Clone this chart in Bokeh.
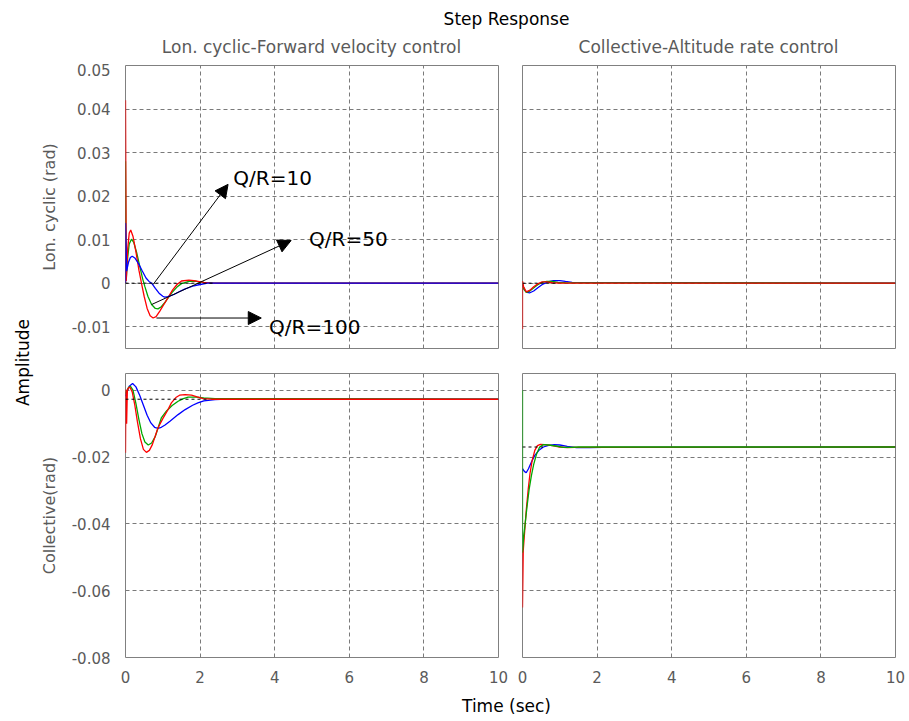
import numpy as np
from bokeh.plotting import figure
from bokeh.layouts import column, row
from bokeh.models import Range1d, FixedTicker, Arrow, NormalHead
from bokeh.embed import file_html
from bokeh.resources import INLINE
from bokeh.core.properties import value

# ---------------- data ----------------
time_ticks = [0, 2, 4, 6, 8, 10]
time_labels = ["0", "2", "4", "6", "8", "10"]
lon_ticks = [-0.01, 0.0, 0.01, 0.02, 0.03, 0.04, 0.05]
lon_labels = ["-0.01", "0", "0.01", "0.02", "0.03", "0.04", "0.05"]
col_ticks = [-0.08, -0.06, -0.04, -0.02, 0.0]
col_labels = ["-0.08", "-0.06", "-0.04", "-0.02", "0"]

series_names = ["Q/R=10", "Q/R=50", "Q/R=100"]
series_colors = ["#0000ff", "#00a800", "#ff0000"]

# Top-left: Lon. cyclic response, Lon. cyclic-Forward velocity control
tl_blue_t = [0, 0, 0.03, 0.08, 0.13, 0.18, 0.25, 0.35, 0.45, 0.55, 0.63, 0.71, 0.80, 0.90, 1.00, 1.05, 1.14, 1.30, 1.45, 1.60, 1.80, 2.00, 2.20, 10]
tl_blue_v = [0, 0.0138, 0.0028, 0.0048, 0.0059, 0.0062, 0.0058, 0.0045, 0.0028, 0.0012, 0.0004, -0.0001, -0.0012, -0.0023, -0.0030, -0.0032, -0.0031, -0.0026, -0.0019, -0.0013, -0.0007, -0.0003, 0.0, 0.0]
tl_green_t = [0, 0, 0.02, 0.06, 0.10, 0.16, 0.22, 0.30, 0.38, 0.46, 0.52, 0.60, 0.70, 0.80, 0.87, 0.96, 1.05, 1.14, 1.25, 1.38, 1.50, 1.70, 1.90, 2.10, 2.40, 10]
tl_green_v = [0, 0.028, 0.0010, 0.0060, 0.0090, 0.0101, 0.0094, 0.0070, 0.0040, 0.0010, -0.0008, -0.0030, -0.0049, -0.0058, -0.0059, -0.0054, -0.0045, -0.0034, -0.0021, -0.0009, -0.0001, 0.0004, 0.0004, 0.0002, 0.0, 0.0]
tl_red_t = [0, 0, 0.02, 0.06, 0.10, 0.14, 0.20, 0.28, 0.36, 0.44, 0.50, 0.58, 0.66, 0.74, 0.82, 0.92, 1.02, 1.14, 1.26, 1.38, 1.50, 1.70, 1.90, 2.10, 2.30, 10]
tl_red_v = [0, 0.042, 0.0005, 0.0080, 0.0115, 0.0122, 0.0108, 0.0072, 0.0030, -0.0005, -0.0030, -0.0058, -0.0075, -0.0080, -0.0077, -0.0064, -0.0050, -0.0033, -0.0016, -0.0003, 0.0005, 0.0007, 0.0005, 0.0002, 0.0, 0.0]

# Top-right: Lon. cyclic response, Collective-Altitude rate control
tr_blue_t = [0, 0.05, 0.12, 0.20, 0.30, 0.42, 0.55, 0.68, 0.83, 1.00, 1.15, 1.33, 10]
tr_blue_v = [-0.0003, -0.0015, -0.0021, -0.0022, -0.0018, -0.0010, -0.0002, 0.0003, 0.0006, 0.0006, 0.0004, 0.0002, 0.0]
tr_green_t = [0, 0.04, 0.10, 0.18, 0.28, 0.40, 0.52, 0.65, 0.80, 0.95, 1.15, 10]
tr_green_v = [-0.0002, -0.0014, -0.0021, -0.0019, -0.0012, -0.0004, 0.0002, 0.0004, 0.0004, 0.0002, 0.0001, 0.0]
tr_red_t = [0, 0, 0.03, 0.10, 0.20, 0.30, 0.42, 0.53, 0.65, 0.80, 1.00, 10]
tr_red_v = [-0.0105, 0.0005, -0.0008, -0.0020, -0.0016, -0.0008, -0.0001, 0.0003, 0.0003, 0.0001, 0.0, 0.0]

# Bottom-left: Collective response, Lon. cyclic-Forward velocity control
bl_blue_t = [0, 0.04, 0.10, 0.19, 0.28, 0.38, 0.48, 0.58, 0.68, 0.78, 0.87, 0.96, 1.06, 1.20, 1.41, 1.60, 1.80, 1.94, 2.10, 2.40, 2.85, 10]
bl_blue_v = [-0.0018, -0.0005, 0.0012, 0.0020, 0.0010, -0.0015, -0.0045, -0.0075, -0.0098, -0.0111, -0.0114, -0.0111, -0.0104, -0.0092, -0.0073, -0.0058, -0.0045, -0.0038, -0.0032, -0.0028, -0.0026, -0.0027]
bl_green_t = [0, 0.03, 0.08, 0.13, 0.20, 0.28, 0.36, 0.44, 0.52, 0.61, 0.70, 0.80, 0.96, 1.10, 1.25, 1.41, 1.55, 1.68, 1.90, 2.10, 2.40, 10]
bl_green_v = [-0.0010, -0.0004, 0.0008, 0.0012, 0.0000, -0.0040, -0.0088, -0.0130, -0.0155, -0.0164, -0.0158, -0.0138, -0.0083, -0.0062, -0.0046, -0.0033, -0.0025, -0.0021, -0.0021, -0.0023, -0.0025, -0.0027]
bl_red_t = [0, 0.01, 0.03, 0.05, 0.08, 0.12, 0.18, 0.25, 0.32, 0.40, 0.48, 0.56, 0.64, 0.72, 0.87, 1.00, 1.12, 1.23, 1.35, 1.45, 1.60, 1.77, 1.92, 2.08, 2.30, 10]
bl_red_v = [-0.0187, 0.0002, -0.0100, 0.0, 0.0007, 0.0009, -0.0005, -0.0045, -0.0095, -0.0145, -0.0177, -0.0186, -0.0180, -0.0163, -0.0113, -0.0085, -0.0062, -0.0038, -0.0022, -0.0015, -0.0013, -0.0015, -0.0020, -0.0025, -0.0027, -0.0027]

# Bottom-right: Collective response, Collective-Altitude rate control
br_blue_t = [0, 0.05, 0.10, 0.16, 0.24, 0.33, 0.44, 0.56, 0.70, 0.85, 1.00, 1.20, 1.45, 1.80, 2.14, 10]
br_blue_v = [-0.0235, -0.0243, -0.0247, -0.0235, -0.0215, -0.0195, -0.0180, -0.0170, -0.0165, -0.0163, -0.0164, -0.0168, -0.0172, -0.0172, -0.0171, -0.0170]
br_green_t = [0, 0, 0.03, 0.08, 0.13, 0.18, 0.24, 0.30, 0.38, 0.46, 0.56, 0.70, 0.90, 1.10, 1.30, 1.50, 10]
br_green_v = [0, -0.0486, -0.0440, -0.0390, -0.0340, -0.0295, -0.0255, -0.0222, -0.0190, -0.0170, -0.0163, -0.0164, -0.0167, -0.0171, -0.0171, -0.0170, -0.0170]
br_red_t = [0, 0, 0.02, 0.06, 0.10, 0.15, 0.20, 0.26, 0.33, 0.40, 0.48, 0.60, 0.80, 1.00, 1.20, 1.40, 10]
br_red_v = [-0.0480, -0.0650, -0.0480, -0.0420, -0.0360, -0.0300, -0.0250, -0.0210, -0.0180, -0.0166, -0.0162, -0.0163, -0.0166, -0.0170, -0.0172, -0.0171, -0.0170]

# steady-state (final value) markers: value and extent in time
ss_values = {"tl": 0.0, "tr": 0.0, "bl": -0.0027, "br": -0.0170}
ss_end = {"tl": 2.4, "tr": 0.9, "bl": 2.2, "br": 0.55}

# annotations in the top-left panel
ann_text = ["Q/R=10", "Q/R=50", "Q/R=100"]
ann_x0 = [0.74, 0.70, 0.83]
ann_y0 = [-0.0003, -0.0049, -0.0080]
ann_x1 = [2.75, 4.44, 3.64]
ann_y1 = [0.0227, 0.0098, -0.0080]
ann_tx = [2.89, 4.92, 3.85]
ann_ty = [0.0242, 0.0101, -0.0101]

# ---------------- styling ----------------
FONT = "DejaVu Sans"
GRAY_TXT = "#5a5a5a"
FRAME = "#808080"


def strip(w, h, xr, yr):
    f = figure(width=w, height=h, x_range=Range1d(*xr), y_range=Range1d(*yr),
               x_axis_type=None, y_axis_type=None, toolbar_location=None,
               output_backend="svg", min_border=0, title=None)
    f.outline_line_color = None
    f.xgrid.visible = False
    f.ygrid.visible = False
    f.background_fill_color = "white"
    f.border_fill_color = "white"
    return f


def panel(w, h, yr, mb, show_x, show_y, yticks, ylabels, ylabel):
    f = figure(width=w, height=h, x_range=Range1d(0, 10), y_range=Range1d(*yr),
               toolbar_location=None, output_backend="svg", title=None,
               min_border_left=mb[0], min_border_right=mb[1],
               min_border_top=mb[2], min_border_bottom=mb[3])
    f.background_fill_color = "white"
    f.border_fill_color = "white"
    f.outline_line_color = FRAME
    f.outline_line_width = 1
    f.xaxis.ticker = FixedTicker(ticks=time_ticks)
    f.yaxis.ticker = FixedTicker(ticks=yticks)
    f.xgrid.ticker = FixedTicker(ticks=time_ticks)
    f.ygrid.ticker = FixedTicker(ticks=yticks)
    for g in (f.xgrid, f.ygrid):
        g.grid_line_color = "#7a7a7a"
        g.grid_line_dash = "4 3"
        g.grid_line_width = 1
    for ax in (f.xaxis, f.yaxis):
        ax.axis_line_color = None
        ax.major_tick_line_color = None
        ax.minor_tick_line_color = None
        ax.major_label_text_font = FONT
        ax.major_label_text_font_size = "15px"
        ax.major_label_text_color = GRAY_TXT
    f.xaxis.major_label_overrides = {t: l for t, l in zip(time_ticks, time_labels)}
    f.yaxis.major_label_overrides = {t: l for t, l in zip(yticks, ylabels)}
    f.xaxis.major_label_standoff = 7
    f.yaxis.major_label_standoff = 9
    if ylabel:
        f.yaxis.axis_label = ylabel
        f.yaxis.axis_label_text_font = FONT
        f.yaxis.axis_label_text_font_size = "16px"
        f.yaxis.axis_label_text_font_style = "normal"
        f.yaxis.axis_label_text_color = GRAY_TXT
        f.yaxis.axis_label_standoff = 10
    f.xaxis.visible = show_x
    f.yaxis.visible = show_y
    return f


top_range = (-0.015, 0.05)
bot_range = (-0.08, 0.005)

tl = panel(474, 297, top_range, (88, 12, 2, 12), False, True, lon_ticks, lon_labels, "Lon. cyclic (rad)")
tr = panel(399, 297, top_range, (12, 14, 2, 12), False, False, lon_ticks, lon_labels, None)
bl = panel(474, 325, bot_range, (88, 12, 13, 28), True, True, col_ticks, col_labels, "Collective(rad)")
br = panel(399, 325, bot_range, (12, 14, 13, 28), True, False, col_ticks, col_labels, None)

LW = 1.3
BLUE, GREEN, RED = series_colors

# draw order per panel (last one on top)
tl.line(tl_green_t, tl_green_v, color=GREEN, line_width=LW)
tl.line(tl_red_t, tl_red_v, color=RED, line_width=LW)
tl.line(tl_blue_t, tl_blue_v, color=BLUE, line_width=LW)

tr.line(tr_blue_t, tr_blue_v, color=BLUE, line_width=LW)
tr.line(tr_green_t, tr_green_v, color=GREEN, line_width=LW)
tr.line(tr_red_t, tr_red_v, color=RED, line_width=LW)

bl.line(bl_blue_t, bl_blue_v, color=BLUE, line_width=LW)
bl.line(bl_green_t, bl_green_v, color=GREEN, line_width=LW)
bl.line(bl_red_t, bl_red_v, color=RED, line_width=LW)

br.line(br_blue_t, br_blue_v, color=BLUE, line_width=LW)
br.line(br_red_t, br_red_v, color=RED, line_width=LW)
br.line(br_green_t, br_green_v, color=GREEN, line_width=LW)

for key, f in (("tl", tl), ("tr", tr), ("bl", bl), ("br", br)):
    f.line([0, ss_end[key]], [ss_values[key], ss_values[key]], color="black",
           line_width=1, line_dash="3 3")

# annotations
for x0, y0, x1, y1 in zip(ann_x0, ann_y0, ann_x1, ann_y1):
    tl.add_layout(Arrow(end=NormalHead(size=13, fill_color="black", line_color="black"),
                        x_start=x0, y_start=y0, x_end=x1, y_end=y1,
                        line_color="black", line_width=1))
tl.text(x=ann_tx, y=ann_ty, text=ann_text, text_font=value(FONT), text_font_size="20px",
        text_color="black", text_align="left", text_baseline="middle")

# strips for shared texts (coordinates in page pixels)
top = strip(909, 63, (0, 909), (63, 0))
top.text(x=[506], y=[18], text=["Step Response"], text_font=value(FONT), text_font_size="17px",
         text_color="black", text_align="center", text_baseline="middle")
top.text(x=[311, 708], y=[46, 46],
         text=["Lon. cyclic-Forward velocity control", "Collective-Altitude rate control"],
         text_font=value(FONT), text_font_size="17px", text_color=GRAY_TXT,
         text_align="center", text_baseline="middle")

left = strip(36, 622, (0, 36), (685, 63))
left.text(x=[22], y=[362], text=["Amplitude"], text_font=value(FONT), text_font_size="17px",
          text_color="black", text_align="center", text_baseline="middle", angle=np.pi / 2)

bottom = strip(909, 36, (0, 909), (721, 685))
bottom.text(x=[506], y=[705], text=["Time (sec)"], text_font=value(FONT), text_font_size="17px",
            text_color="black", text_align="center", text_baseline="middle")

layout = column(top, row(left, column(row(tl, tr), row(bl, br))), bottom)

open("out.html", "w").write(file_html(layout, INLINE))
